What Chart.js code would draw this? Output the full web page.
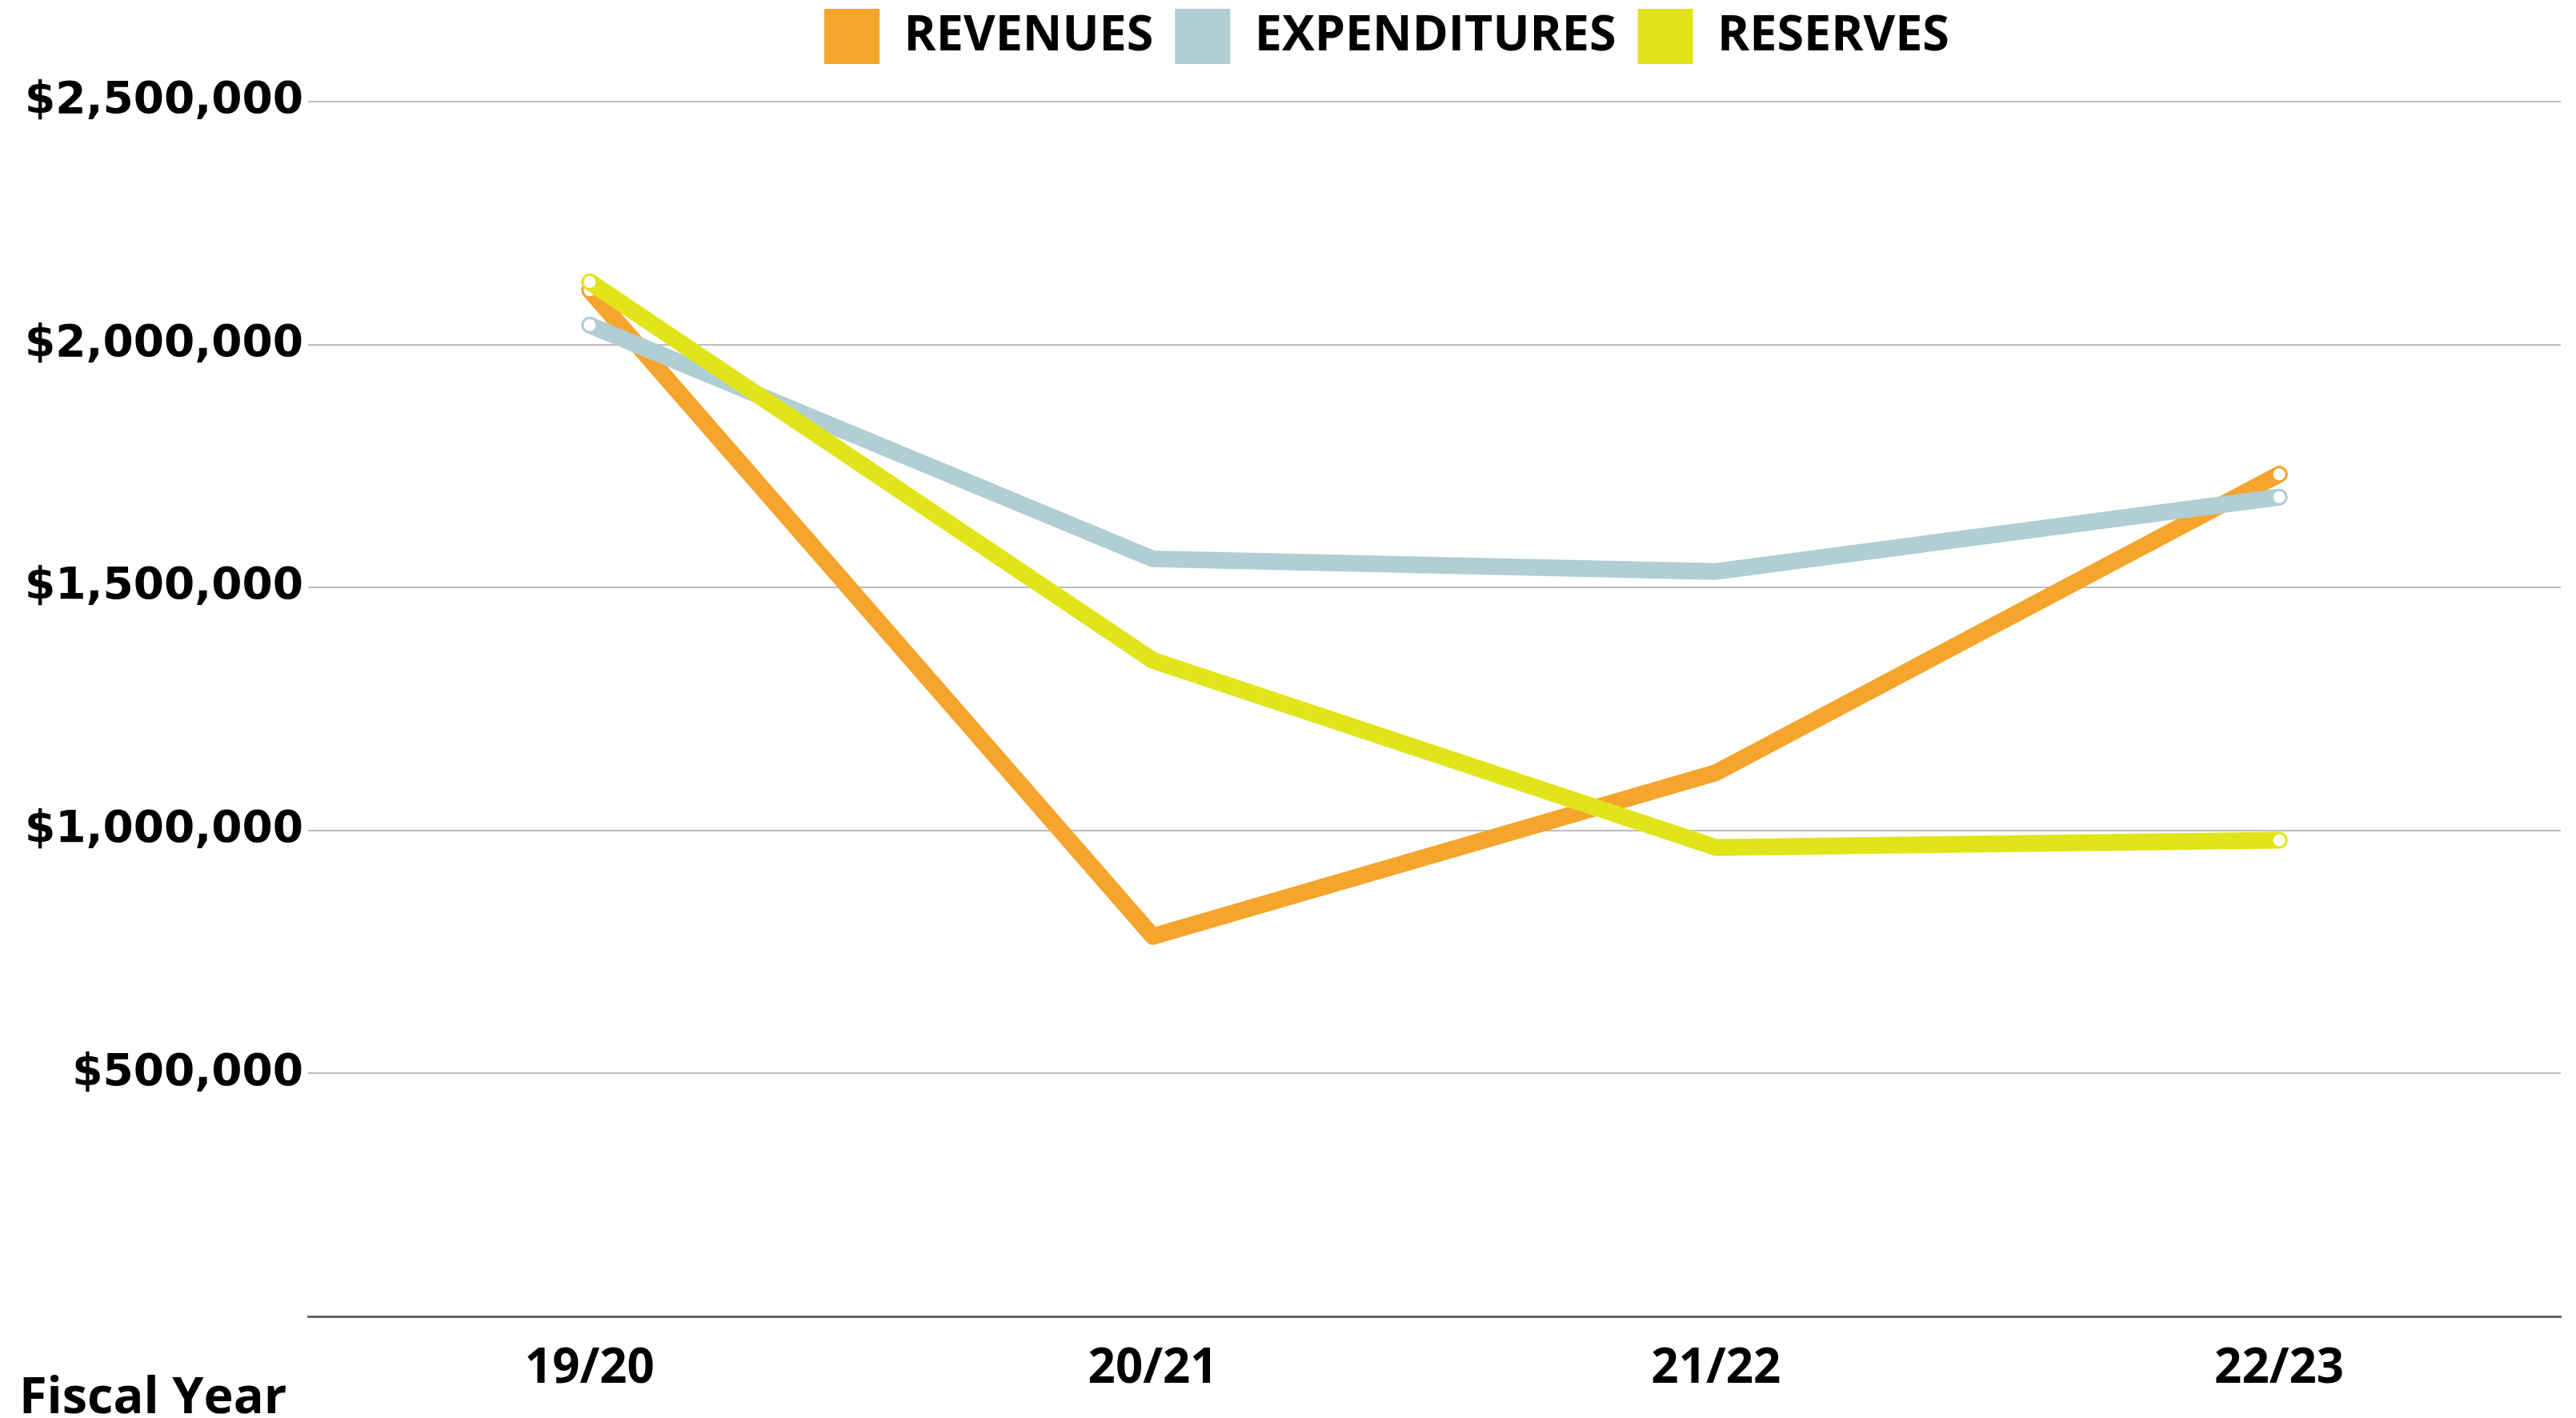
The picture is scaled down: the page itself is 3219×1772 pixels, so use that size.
<!DOCTYPE html>
<html><head><meta charset="utf-8">
<script src="https://cdn.jsdelivr.net/npm/chart.js@4/dist/chart.umd.min.js"></script>
<style>html,body{margin:0;padding:0;background:#fff;} canvas{display:block;}</style>
</head><body>
<canvas id="c" width="3219" height="1772"></canvas>
<script>
const categories = ['19/20', '20/21', '21/22', '22/23'];
const revenues = [2112000, 782000, 1119000, 1733000];
const expenditures = [2040000, 1559000, 1533000, 1686000];
const reserves = [2129000, 1350000, 965000, 980000];
const seriesNames = ['REVENUES', 'EXPENDITURES', 'RESERVES'];
const seriesColors = ['#F5A42C', '#B0CED4', '#E1E419'];
const yTicks = [0, 500000, 1000000, 1500000, 2000000, 2500000];
const xAxisTitle = 'Fiscal Year';

const endPoints = [9, 0, 0, 9];

function ds(label, data, color, order) {
  return {
    label, data, order,
    borderColor: color, backgroundColor: color,
    borderWidth: 21, borderCapStyle: 'round', borderJoinStyle: 'round',
    tension: 0,
    pointRadius: endPoints, pointHoverRadius: endPoints,
    pointBackgroundColor: '#ffffff', pointBorderColor: color, pointBorderWidth: 3
  };
}

const legendSpacer = {
  id: 'legendSpacer',
  beforeLayout(chart) {
    const lg = chart.legend;
    if (lg && !lg._spacerPatched) {
      const f = lg.fit;
      lg.fit = function () { f.call(this); this.height += 37; };
      lg._spacerPatched = true;
    }
  },
  afterLayout(chart) {
    if (chart.legend) { chart.legend.left = 266; }
  }
};

const axisTitlePlugin = {
  id: 'axisTitlePlugin',
  afterDraw(chart) {
    const ctx = chart.ctx;
    ctx.save();
    ctx.font = 'bold 63px "Open Sans"';
    ctx.fillStyle = '#000';
    ctx.textAlign = 'left';
    ctx.textBaseline = 'alphabetic';
    ctx.fillText(xAxisTitle, 24, 1766);
    ctx.restore();
  }
};

new Chart(document.getElementById('c'), {
  type: 'line',
  data: {
    labels: categories,
    datasets: [
      ds(seriesNames[0], revenues, seriesColors[0], 3),
      ds(seriesNames[1], expenditures, seriesColors[1], 2),
      ds(seriesNames[2], reserves, seriesColors[2], 1)
    ]
  },
  options: {
    responsive: false,
    devicePixelRatio: 1,
    animation: false,
    layout: { padding: { top: -16, left: 0, right: 19, bottom: -5 } },
    plugins: {
      tooltip: { enabled: false },
      legend: {
        position: 'top',
        align: 'center',
        labels: {
          boxWidth: 69, boxHeight: 69, padding: 27, color: '#000',
          font: { family: 'Open Sans', weight: 'bold', size: 61 },
          generateLabels(chart) {
            return chart.data.datasets.map((d, i) => ({
              text: d.label, fillStyle: d.borderColor, strokeStyle: d.borderColor,
              lineWidth: 0, hidden: false, datasetIndex: i, fontColor: '#000'
            }));
          }
        }
      }
    },
    scales: {
      x: {
        type: 'category', offset: true,
        grid: { display: false, drawTicks: false },
        border: { display: true, color: '#666666', width: 3 },
        ticks: { color: '#000', padding: 30, font: { family: 'Open Sans', weight: 'bold', size: 60 } }
      },
      y: {
        min: 0, max: 2500000,
        afterBuildTicks(s) { s.ticks = yTicks.map(v => ({ value: v })); },
        afterFit(s) { s.width = 385; },
        grid: {
          drawTicks: false, lineWidth: 2,
          color: c => (c.tick && c.tick.value === 0) ? 'rgba(0,0,0,0)' : '#BDBDBD'
        },
        border: { display: false },
        ticks: {
          color: '#000', padding: 6,
          font: { family: 'DejaVu Sans', weight: 'bold', size: 55 },
          callback: v => v === 0 ? '' : '$' + Number(v).toLocaleString('en-US')
        }
      }
    }
  },
  plugins: [legendSpacer, axisTitlePlugin]
});
</script>
</body></html>
